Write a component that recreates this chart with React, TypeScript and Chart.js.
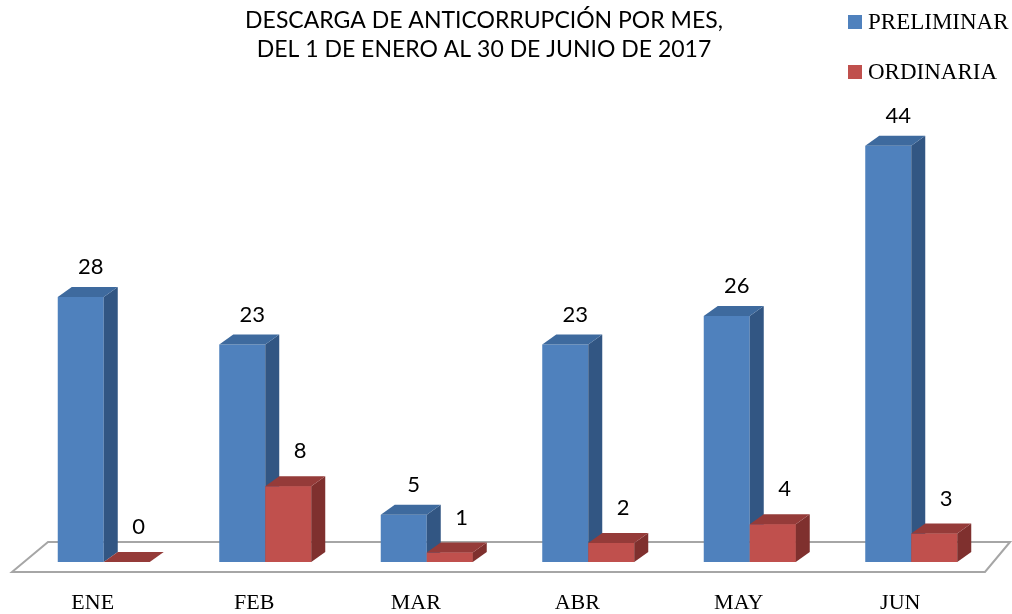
import React, { useEffect, useRef } from "react";
import { Chart, registerables } from "chart.js";
Chart.register(...registerables);

const categories = ["ENE", "FEB", "MAR", "ABR", "MAY", "JUN"];
const preliminar = [28, 23, 5, 23, 26, 44];
const ordinaria = [0, 8, 1, 2, 4, 3];
const seriesNames = ["PRELIMINAR", "ORDINARIA"];
const titleLines = [
  "DESCARGA DE ANTICORRUPCIÓN POR MES,",
  "DEL 1 DE ENERO AL 30 DE JUNIO DE 2017",
];

const COLORS = [
  { front: "#4F81BD", top: "#3E6A9E", side: "#325683" },
  { front: "#C0504D", top: "#953B39", side: "#7F302E" },
];
const DX = 14;
const DY = 10;
const SANS = "Lato, 'Open Sans', sans-serif";
const SERIF = "'Liberation Serif', 'DejaVu Serif', serif";

function drawSides(ctx: any, el: any, c: any) {
  const p = el.getProps(["x", "y", "base", "width"], true);
  const l = p.x - p.width / 2;
  const r = p.x + p.width / 2;
  ctx.beginPath();
  ctx.moveTo(r, p.y);
  ctx.lineTo(r + DX, p.y - DY);
  ctx.lineTo(r + DX, p.base - DY);
  ctx.lineTo(r, p.base);
  ctx.closePath();
  ctx.fillStyle = c.side;
  ctx.fill();
  ctx.beginPath();
  ctx.moveTo(l, p.y);
  ctx.lineTo(l + DX, p.y - DY);
  ctx.lineTo(r + DX, p.y - DY);
  ctx.lineTo(r, p.y);
  ctx.closePath();
  ctx.fillStyle = c.top;
  ctx.fill();
}

const threeD = {
  id: "threeD",
  beforeDatasetsDraw(chart: any) {
    const { ctx, chartArea } = chart;
    const base = chart.scales.y.getPixelForValue(0);
    ctx.save();
    ctx.beginPath();
    ctx.moveTo(chartArea.left - 11, base + 10);
    ctx.lineTo(chartArea.left + 25, base - 20);
    ctx.lineTo(chartArea.right + 18, base - 20);
    ctx.lineTo(chartArea.right - 7, base + 10);
    ctx.closePath();
    ctx.fillStyle = "#FFFFFF";
    ctx.fill();
    ctx.strokeStyle = "#A6A6A6";
    ctx.lineWidth = 2;
    ctx.stroke();
    ctx.restore();
  },
  afterDatasetsDraw(chart: any) {
    const { ctx } = chart;
    const m0 = chart.getDatasetMeta(0);
    const m1 = chart.getDatasetMeta(1);
    ctx.save();
    m0.data.forEach((el: any, i: number) => {
      drawSides(ctx, el, COLORS[0]);
      const red = m1.data[i];
      if (red) {
        red.draw(ctx);
        drawSides(ctx, red, COLORS[1]);
      }
    });
    ctx.restore();
  },
  afterDraw(chart: any) {
    const { ctx, chartArea } = chart;
    const xs = chart.scales.x;
    ctx.save();
    ctx.fillStyle = "#000000";
    ctx.textBaseline = "middle";
    // title
    ctx.textAlign = "center";
    ctx.font = `23px ${SANS}`;
    ctx.fillText(titleLines[0], 484, 21);
    ctx.fillText(titleLines[1], 484, 50);
    // data labels
    ctx.font = `22px ${SANS}`;
    const offs = [
      [10, 30],
      [12, 35],
    ];
    [preliminar, ordinaria].forEach((vals, di) => {
      const meta = chart.getDatasetMeta(di);
      meta.data.forEach((el: any, i: number) => {
        const p = el.getProps(["x", "y"], true);
        ctx.fillText(String(vals[i]), p.x + offs[di][0], p.y - offs[di][1]);
      });
    });
    // x labels
    ctx.font = `22px ${SERIF}`;
    categories.forEach((c, i) => {
      ctx.fillText(c, xs.getPixelForValue(i) - 11, chartArea.bottom + 41);
    });
    // legend
    ctx.textAlign = "left";
    seriesNames.forEach((n, i) => {
      const y = 22 + i * 50;
      ctx.fillStyle = COLORS[i].front;
      ctx.fillRect(848, y - 7, 14, 14);
      ctx.fillStyle = "#000000";
      ctx.font = `23px ${SERIF}`;
      ctx.fillText(n, 868, y + 1);
    });
    ctx.restore();
  },
};

export default function App() {
  const ref = useRef<HTMLCanvasElement>(null);
  useEffect(() => {
    document.body.style.margin = "0";
    const chart = new Chart(ref.current!, {
      type: "bar",
      data: {
        labels: categories,
        datasets: [
          {
            label: seriesNames[0],
            data: preliminar,
            backgroundColor: COLORS[0].front,
            borderWidth: 0,
          },
          {
            label: seriesNames[1],
            data: ordinaria,
            backgroundColor: COLORS[1].front,
            borderWidth: 0,
          },
        ],
      },
      options: {
        responsive: false,
        animation: false,
        events: [],
        layout: { padding: { left: 23, right: 20, top: 89, bottom: 52 } },
        datasets: { bar: { categoryPercentage: 0.5697, barPercentage: 1 } },
        scales: {
          x: { display: false, offset: true },
          y: { display: false, min: 0, max: 50 },
        },
        plugins: { legend: { display: false }, title: { display: false }, tooltip: { enabled: false } },
      },
      plugins: [threeD],
    });
    return () => chart.destroy();
  }, []);
  return (
    <div style={{ width: 1012, height: 614, background: "#fff" }}>
      <canvas ref={ref} width={1012} height={614} />
    </div>
  );
}
